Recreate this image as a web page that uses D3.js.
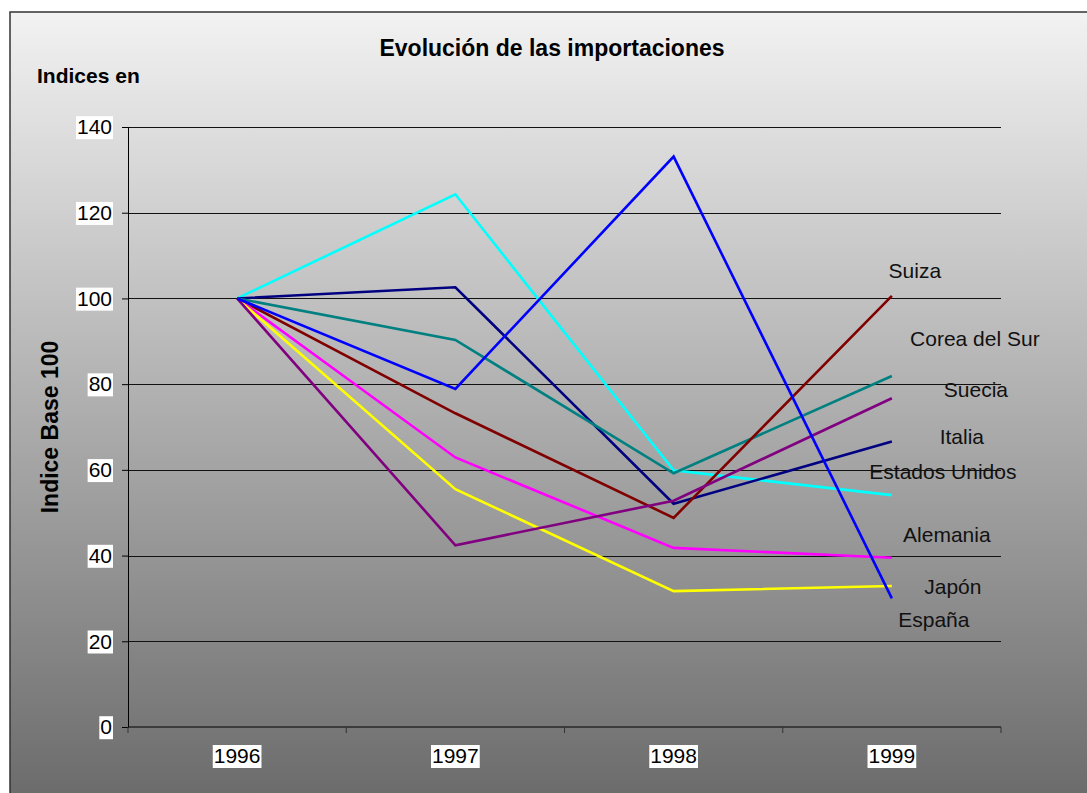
<!DOCTYPE html>
<html>
<head>
<meta charset="utf-8">
<script src="https://cdn.jsdelivr.net/npm/d3@7"></script>
<style>
  body { margin: 0; background: #fff; }
  text { font-family: Arial, "Liberation Sans", sans-serif; }
</style>
</head>
<body>
<div id="chart"></div>
<script>
// data
var years = ["1996", "1997", "1998", "1999"];
var suiza = [100, 73.2, 48.8, 100.6];
var coreaDelSur = [100, 90.3, 59.2, 81.9];
var suecia = [100, 42.4, 52.8, 76.7];
var italia = [100, 102.6, 52.1, 66.6];
var estadosUnidos = [100, 124.3, 59.9, 54.1];
var alemania = [100, 62.9, 41.8, 39.5];
var japon = [100, 55.5, 31.7, 32.9];
var espana = [100, 78.9, 133.1, 30.0];
var yTicks = [0, 20, 40, 60, 80, 100, 120, 140];

var series = [
  {name: "Estados Unidos", values: estadosUnidos, color: "#00ffff"},
  {name: "Italia", values: italia, color: "#000080"},
  {name: "Corea del Sur", values: coreaDelSur, color: "#008080"},
  {name: "Suiza", values: suiza, color: "#800000"},
  {name: "Alemania", values: alemania, color: "#ff00ff"},
  {name: "Japón", values: japon, color: "#ffff00"},
  {name: "Suecia", values: suecia, color: "#800080"},
  {name: "España", values: espana, color: "#0000ff"}
];

// where each country label sits (value units / px offset from last point)
var labelSpots = [
  {name: "Suiza", v: 106.5, dx: 23},
  {name: "Corea del Sur", v: 90.6, dx: 83},
  {name: "Suecia", v: 78.7, dx: 84},
  {name: "Italia", v: 67.7, dx: 70},
  {name: "Estados Unidos", v: 59.5, dx: 51},
  {name: "Alemania", v: 44.8, dx: 55},
  {name: "Japón", v: 32.7, dx: 61},
  {name: "España", v: 25.0, dx: 42}
];

var W = 1087, H = 793;
var margin = {top: 127, left: 128, right: 86, bottom: 66};

var svg = d3.select("#chart").append("svg")
    .attr("width", W)
    .attr("height", H);

var grad = svg.append("defs").append("linearGradient")
    .attr("id", "bg")
    .attr("x1", 0).attr("y1", 0).attr("x2", 0).attr("y2", 1);
grad.append("stop").attr("offset", "0%").attr("stop-color", "#f2f2f2");
grad.append("stop").attr("offset", "100%").attr("stop-color", "#6a6a6a");

svg.append("rect")
    .attr("x", 10).attr("y", 12)
    .attr("width", W + 10).attr("height", H)
    .attr("fill", "url(#bg)")
    .attr("stroke", "#333")
    .attr("stroke-width", 1.5);

var x = d3.scaleBand()
    .domain(years)
    .range([margin.left, W - margin.right]);

var y = d3.scaleLinear()
    .domain([0, 140])
    .range([H - margin.bottom, margin.top]);

// gridlines
svg.append("g")
  .selectAll("line")
  .data(yTicks.slice(1))
  .join("line")
    .attr("x1", margin.left).attr("x2", W - margin.right)
    .attr("y1", d => Math.round(y(d)) + 0.5)
    .attr("y2", d => Math.round(y(d)) + 0.5)
    .attr("stroke", "#111")
    .attr("stroke-width", 1.2);

// y axis
var yAxis = svg.append("g")
    .attr("transform", `translate(${margin.left},0)`)
    .call(d3.axisLeft(y).tickValues(yTicks).tickSize(6).tickPadding(10));
yAxis.select(".domain").attr("stroke", "#000");
yAxis.selectAll(".tick line").attr("stroke", "#000");
yAxis.selectAll(".tick text")
    .attr("font-size", 21)
    .attr("fill", "#000")
    .attr("font-family", "Arial, 'Liberation Sans', sans-serif");

// x axis, ticks sit between categories
var xAxis = svg.append("g")
    .attr("transform", `translate(0,${H - margin.bottom})`);
xAxis.append("line")
    .attr("x1", margin.left).attr("x2", W - margin.right)
    .attr("y1", 0).attr("y2", 0)
    .attr("stroke", "#000");
var bounds = years.map(d => x(d)).concat([x(years[years.length - 1]) + x.bandwidth()]);
xAxis.selectAll("line.tk")
  .data(bounds)
  .join("line")
    .attr("class", "tk")
    .attr("x1", d => d).attr("x2", d => d)
    .attr("y1", 0).attr("y2", 6)
    .attr("stroke", "#333");
xAxis.selectAll("text")
  .data(years)
  .join("text")
    .attr("x", d => x(d) + x.bandwidth() / 2)
    .attr("y", 36)
    .attr("text-anchor", "middle")
    .attr("font-size", 21)
    .text(d => d);

// white boxes behind tick labels
svg.selectAll("g text").each(function() {
  var b = this.getBBox();
  d3.select(this.parentNode).insert("rect", () => this)
    .attr("x", b.x - 1).attr("y", b.y + 1)
    .attr("width", b.width + 2).attr("height", b.height)
    .attr("fill", "#fff");
});

// lines
var line = d3.line()
    .x((d, i) => x(years[i]) + x.bandwidth() / 2)
    .y(d => y(d));

svg.append("g")
  .selectAll("path")
  .data(series)
  .join("path")
    .attr("fill", "none")
    .attr("stroke", d => d.color)
    .attr("stroke-width", 2.6)
    .attr("d", d => line(d.values));

// country labels
var lastX = x(years[years.length - 1]) + x.bandwidth() / 2;
svg.append("g")
  .selectAll("text")
  .data(labelSpots)
  .join("text")
    .attr("x", d => lastX + d.dx)
    .attr("y", d => y(d.v))
    .attr("dy", "0.35em")
    .attr("text-anchor", "middle")
    .attr("font-size", 21)
    .attr("fill", "#111")
    .text(d => d.name);

// titles
svg.append("text")
    .attr("x", 552).attr("y", 56)
    .attr("text-anchor", "middle")
    .attr("font-size", 23)
    .attr("font-weight", "bold")
    .text("Evolución de las importaciones");

svg.append("text")
    .attr("x", 37).attr("y", 83)
    .attr("font-size", 21)
    .attr("font-weight", "bold")
    .text("Indices en");

svg.append("text")
    .attr("transform", `translate(58,${y(70)}) rotate(-90)`)
    .attr("text-anchor", "middle")
    .attr("font-size", 23)
    .attr("font-weight", "bold")
    .text("Indice Base 100");
</script>
</body>
</html>
